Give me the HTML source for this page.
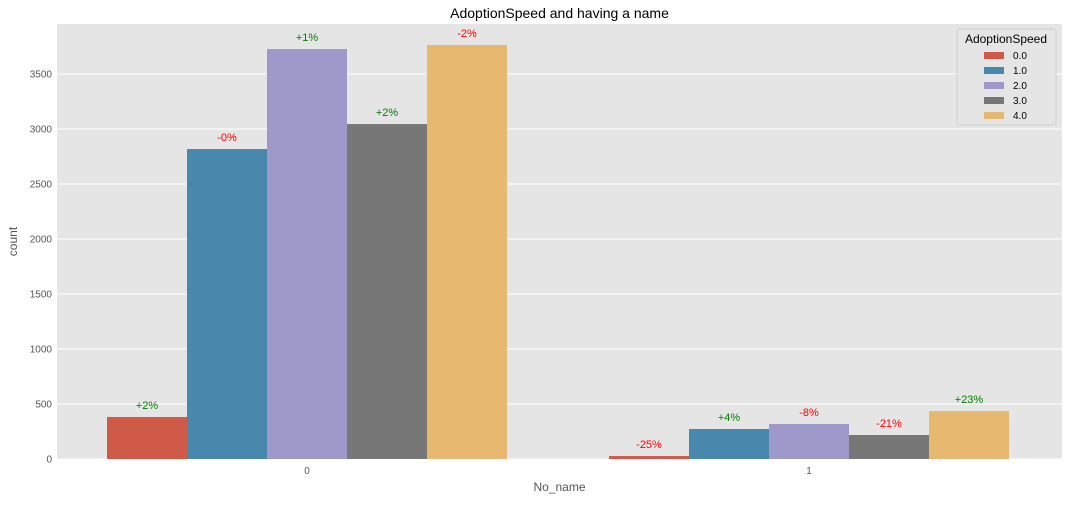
<!DOCTYPE html>
<html><head><meta charset="utf-8"><style>
body{margin:0;background:#fff;font-family:"Liberation Sans","DejaVu Sans",sans-serif;}
</style></head><body>
<svg id="c" width="1071" height="500" xmlns="http://www.w3.org/2000/svg"></svg>
<script>
const categories = ["0", "1"];
const speeds = ["0.0", "1.0", "2.0", "3.0", "4.0"];
const counts0 = [382, 2818, 3727, 3045, 3764];
const counts1 = [27, 273, 318, 218, 436];
const labels0 = ["+2%", "-0%", "+1%", "+2%", "-2%"];
const labels1 = ["-25%", "+4%", "-8%", "-21%", "+23%"];
const yTicks = [0, 500, 1000, 1500, 2000, 2500, 3000, 3500];
const colors = ["#d05a48", "#4788ac", "#9f98cb", "#777777", "#e7b970"];

const svg = document.getElementById('c');
const NS = "http://www.w3.org/2000/svg";
function mk(tag, attrs, parent){const e=document.createElementNS(NS,tag);for(const k in attrs)e.setAttribute(k,attrs[k]);(parent||svg).appendChild(e);return e;}
const L=57,R=1062,T=24,B=459;
const y = v => B - v*(385/3500);
const groupCenter = i => 307 + i*502;
const bw = 80;
const x = (g,s) => groupCenter(g) - 2.5*bw + s*bw;

const bg = mk('rect',{x:L,y:T,width:R-L,height:B-T,fill:'#e5e5e5'});


yTicks.forEach(t=>{
  const ln=mk('line',{x1:L,x2:R,y1:y(t),y2:y(t),stroke:'#fff','stroke-width':1});
  
  
  const tx=mk('text',{x:L-5,y:y(t)+3.5,'text-anchor':'end','font-size':10,fill:'#555'});
  tx.textContent=t;
  
  
});
const series=[counts0,counts1], labs=[labels0,labels1];
categories.forEach((c,g)=>{
  speeds.forEach((s,i)=>{
    const v=series[g][i];
    const r=mk('rect',{x:x(g,i),y:y(v),width:bw,height:B-y(v),fill:colors[i]});
    
    
    const lb=labs[g][i];
    const t=mk('text',{x:x(g,i)+bw/2,y:y(v)-8,'text-anchor':'middle','font-size':11,fill:lb.startsWith('+')?'#008000':'#ff0000'});
    t.textContent=lb;
    
    
  });
  const tk=mk('text',{x:groupCenter(g),y:B+15,'text-anchor':'middle','font-size':10,fill:'#555'});
  tk.textContent=c;
  
  
});
const title=mk('text',{x:(L+R)/2,y:18,'text-anchor':'middle','font-size':14,fill:'#000'});
title.textContent='AdoptionSpeed and having a name';


const xt=mk('text',{x:(L+R)/2,y:491,'text-anchor':'middle','font-size':12,fill:'#555'});
xt.textContent='No_name';


const yt=mk('text',{x:17,y:(T+B)/2,'text-anchor':'middle','font-size':12,fill:'#555',transform:`rotate(-90 17 ${(T+B)/2})`});
yt.textContent='count';


const lg=mk('g',{});


mk('rect',{x:957,y:29,width:99,height:96,fill:'#e5e5e5',stroke:'#d0d0d0',rx:2},lg);
const lt=mk('text',{x:1006,y:43,'text-anchor':'middle','font-size':12,fill:'#000'},lg);
lt.textContent='AdoptionSpeed';
speeds.forEach((s,i)=>{
  const yy=55+i*15;
  const e=mk('g',{},lg);
  
  
  mk('rect',{x:984,y:yy-3,width:20,height:7,fill:colors[i]},e);
  const t=mk('text',{x:1013,y:yy+4,'font-size':10,fill:'#000'},e);
  t.textContent=s;
});
</script>
</body></html>
